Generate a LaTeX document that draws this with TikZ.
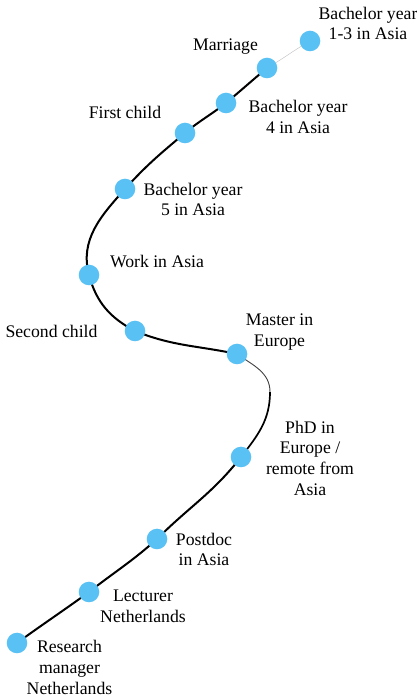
\documentclass[tikz,border=0pt]{standalone}
\usepackage{fontspec}
\setmainfont{Liberation Serif}
\definecolor{eventblue}{RGB}{90,193,245}
\begin{document}
\begin{tikzpicture}[x=1pt, y=1pt,
        event/.style={circle, fill=eventblue, minimum size=20.6pt, inner sep=0pt},
        caption/.style={align=center, inner sep=0pt, font=\fontsize{17.7}{20.7}\selectfont},
        track/.style={black, line width=2pt}]
        \useasboundingbox (0, 0) rectangle (417, 697);

        % Track points
        \coordinate (bend) at (270, 305);

        % Track
        %% faint start
        \draw[gray!45, line width=0.5pt] (310, 656) coordinate (p-bsc13) to[out=210, in=30] (267, 629) coordinate (p-mar);
        \draw[track] (p-mar) to[out=220, in=40] (226, 594) coordinate (p-bsc4);
        \draw[track] (p-bsc4) to[out=218, in=40] (185, 564) coordinate (p-child1);
        \draw[track] (p-child1) to[out=220, in=48] (125, 508) coordinate (p-bsc5);
        \draw[track] (p-bsc5) to[out=228, in=105] (89, 422) coordinate (p-work);
        \draw[track] (p-work) to[out=-75, in=152] (135, 366) coordinate (p-child2);
        \draw[track] (p-child2) to[out=-22, in=168] (237, 343) coordinate (p-msc);
        %% thin after master
        \draw[black!75, line width=0.9pt] (p-msc) to[out=-35, in=90] (bend);
        \draw[black, line width=1.7pt] (bend) to[out=270, in=52] (241, 240) coordinate (p-phd);
        \draw[track] (p-phd) to[out=232, in=45] (157, 158) coordinate (p-postdoc);
        \draw[track] (p-postdoc) to[out=222, in=38] (89, 105) coordinate (p-lect);
        \draw[track] (p-lect) to[out=216, in=36] (17, 54) coordinate (p-rm);

        % Events
        \foreach \p in {bsc13, mar, bsc4, child1, bsc5, work, child2, msc, phd, postdoc, lect, rm} {
            \node[event] (\p) at (p-\p) {};
        }

        % Captions
        \node[caption] (t-bsc13) at (368, 673.5) {Bachelor year\\1-3 in Asia};
        \node[caption] (t-mar) at (225.5, 650) {Marriage};
        \node[caption] (t-bsc4) at (298, 580) {Bachelor year\\4 in Asia};
        \node[caption] (t-child1) at (125, 585) {First child};
        \node[caption] (t-bsc5) at (193, 497.5) {Bachelor year\\5 in Asia};
        \node[caption] (t-work) at (157, 436) {Work in Asia};
        \node[caption] (t-child2) at (51.5, 366) {Second child};
        \node[caption] (t-msc) at (279.5, 365) {Master in\\Europe};
        \node[caption] (t-phd) at (310, 239) {PhD in\\Europe /\\remote from\\Asia};
        \node[caption] (t-postdoc) at (204, 147.5) {Postdoc\\in Asia};
        \node[caption] (t-lect) at (143, 91) {Lecturer\\Netherlands};
        \node[caption] (t-rm) at (69.5, 29.5) {Research\\manager\\Netherlands};
\end{tikzpicture}
\end{document}
